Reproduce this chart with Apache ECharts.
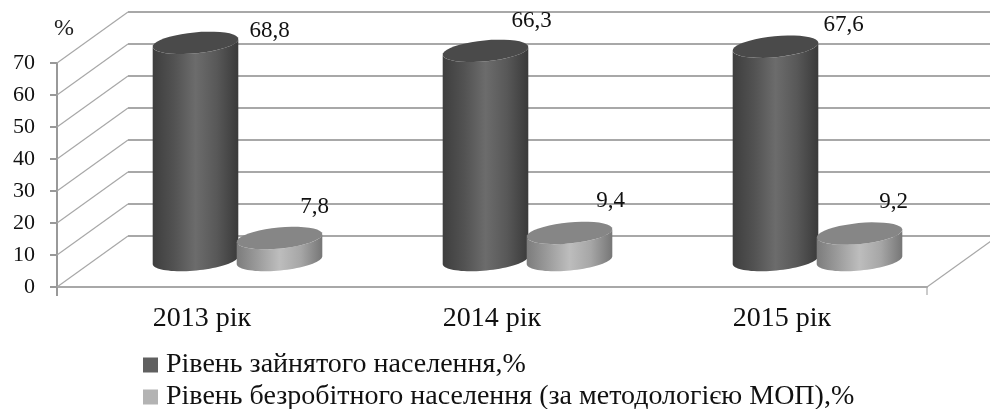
<!DOCTYPE html>
<html><head><meta charset="utf-8">
<style>html,body{margin:0;padding:0;background:#fff}#c{width:990px;height:409px}</style>
<script src="https://cdn.jsdelivr.net/npm/echarts@6/dist/echarts.min.js"></script>
</head><body><div id="c"></div>
<script>
const categories = ['2013 рік', '2014 рік', '2015 рік'];
const employed = [68.8, 66.3, 67.6];
const unemployed = [7.8, 9.4, 9.2];
const employedLabels = ['68,8', '66,3', '67,6'];
const unemployedLabels = ['7,8', '9,4', '9,2'];
const yTicks = [0, 10, 20, 30, 40, 50, 60, 70];
const seriesNames = ['Рівень зайнятого населення,%', 'Рівень безробітного населення (за методологією МОП),%'];

const serif = '"Liberation Serif", serif';
const DEPTH_X = 71, DEPTH_Y = 51;
const RX = 43, RY = 10.5, TILT = -5.5 * Math.PI / 180;

function ellipsePoint(cx, cy, t) {
  const c = Math.cos(t), s = Math.sin(t);
  return [cx + RX * c * Math.cos(TILT) - RY * s * Math.sin(TILT),
          cy + RX * c * Math.sin(TILT) + RY * s * Math.cos(TILT)];
}
function arc(cx, cy, a, b) {
  const pts = [];
  for (let i = 0; i <= 40; i++) pts.push(ellipsePoint(cx, cy, a + (b - a) * i / 40));
  return pts;
}
function gradient(stops) {
  return { type: 'linear', x: 0, y: 0, x2: 1, y2: 0,
    colorStops: stops.map((c, i) => ({ offset: i / (stops.length - 1), color: c })) };
}
function cylinderRenderer(side, bodyStops, capColor, labels, labelOffsets) {
  return function (params, api) {
    const i = api.value(0), v = api.value(1);
    const top = api.coord([i, v]), base = api.coord([i, 0]);
    const cx = top[0] + DEPTH_X / 2 + side * 42;
    const yT = top[1] - 24, yB = base[1] - 27;
    const body = arc(cx, yT, Math.PI, 0).concat(arc(cx, yB, 0, Math.PI));
    const off = labelOffsets[i];
    return { type: 'group', children: [
      { type: 'polygon', shape: { points: body }, style: { fill: gradient(bodyStops) } },
      { type: 'polygon', shape: { points: arc(cx, yT, 0, Math.PI * 2) }, style: { fill: capColor } },
      { type: 'text', x: cx + off[0], y: yT + off[1], style: {
          text: labels[i], font: '23px ' + serif, fill: '#111', align: 'center', verticalAlign: 'middle' } }
    ] };
  };
}
function wallRenderer(params, api) {
  const cs = params.coordSys;
  const y = api.coord([0, api.value(0)])[1];
  const stroke = '#a8a8a8';
  const children = [
    { type: 'line', shape: { x1: cs.x, y1: y, x2: cs.x + DEPTH_X, y2: y - DEPTH_Y }, style: { stroke, lineWidth: 1.2 } },
    { type: 'line', shape: { x1: cs.x + DEPTH_X, y1: y - DEPTH_Y, x2: cs.x + cs.width + DEPTH_X, y2: y - DEPTH_Y }, style: { stroke, lineWidth: 2 } }
  ];
  if (api.value(0) === 0) {
    children.push(
      { type: 'line', shape: { x1: cs.x + cs.width, y1: y, x2: cs.x + cs.width + DEPTH_X, y2: y - DEPTH_Y }, style: { stroke, lineWidth: 1.2 } },
      { type: 'line', shape: { x1: cs.x + cs.width, y1: y, x2: cs.x + cs.width, y2: y + 8 }, style: { stroke, lineWidth: 1.2 } },
      { type: 'line', shape: { x1: cs.x, y1: y, x2: cs.x, y2: y + 9 }, style: { stroke: '#999', lineWidth: 2 } }
    );
  }
  return { type: 'group', children };
}

const chart = echarts.init(document.getElementById('c'), null, { renderer: 'canvas' });
chart.setOption({
  animation: false,
  backgroundColor: '#fff',
  grid: { left: 57, top: 63, width: 870, height: 224, containLabel: false },
  legend: {
    orient: 'vertical', left: 138, top: 346, height: 63, width: 840, itemWidth: 15, itemHeight: 15, itemGap: 4,
    icon: 'rect',
    data: [
      { name: seriesNames[0], itemStyle: { color: '#606060' } },
      { name: seriesNames[1], itemStyle: { color: '#b3b3b3' } }
    ],
    textStyle: { fontFamily: serif, fontSize: 28, color: '#111', padding: [0, 0, 0, 3] }
  },
  xAxis: {
    type: 'category', data: categories,
    axisLine: { lineStyle: { color: '#a8a8a8', width: 2 } },
    axisTick: { show: false },
    axisLabel: { fontFamily: serif, fontSize: 28, color: '#111', margin: 18 }
  },
  yAxis: {
    type: 'value', min: 0, max: 70, interval: 10,
    name: '%', nameLocation: 'end', nameGap: 22,
    nameTextStyle: { fontFamily: serif, fontSize: 24, color: '#222', align: 'center', padding: [0, 0, 0, 14] },
    axisLine: { show: true, lineStyle: { color: '#999', width: 2 } },
    axisTick: { show: true, length: 7, lineStyle: { color: '#999', width: 2 } },
    splitLine: { show: false },
    axisLabel: { fontFamily: serif, fontSize: 22, color: '#111', margin: 22 }
  },
  series: [
    { type: 'custom', name: 'walls', data: yTicks.map(v => [v]), encode: { y: 0 }, renderItem: wallRenderer, silent: true, z: 1 },
    { type: 'custom', name: seriesNames[0], data: employed.map((v, i) => [i, v]), encode: { x: 0, y: 1 }, z: 3,
      itemStyle: { color: '#606060' },
      renderItem: cylinderRenderer(-1, ['#3e3e3e', '#525252', '#6c6c6c', '#585858', '#3a3a3a'], '#4a4a4a', employedLabels,
        [[74, -12], [46, -30], [68, -22]]) },
    { type: 'custom', name: seriesNames[1], data: unemployed.map((v, i) => [i, v]), encode: { x: 0, y: 1 }, z: 4,
      itemStyle: { color: '#b3b3b3' },
      renderItem: cylinderRenderer(1, ['#7c7c7c', '#9c9c9c', '#bdbdbd', '#a6a6a6', '#767676'], '#868686', unemployedLabels,
        [[35, -31], [41, -32], [34, -32]]) }
  ]
});
</script></body></html>
